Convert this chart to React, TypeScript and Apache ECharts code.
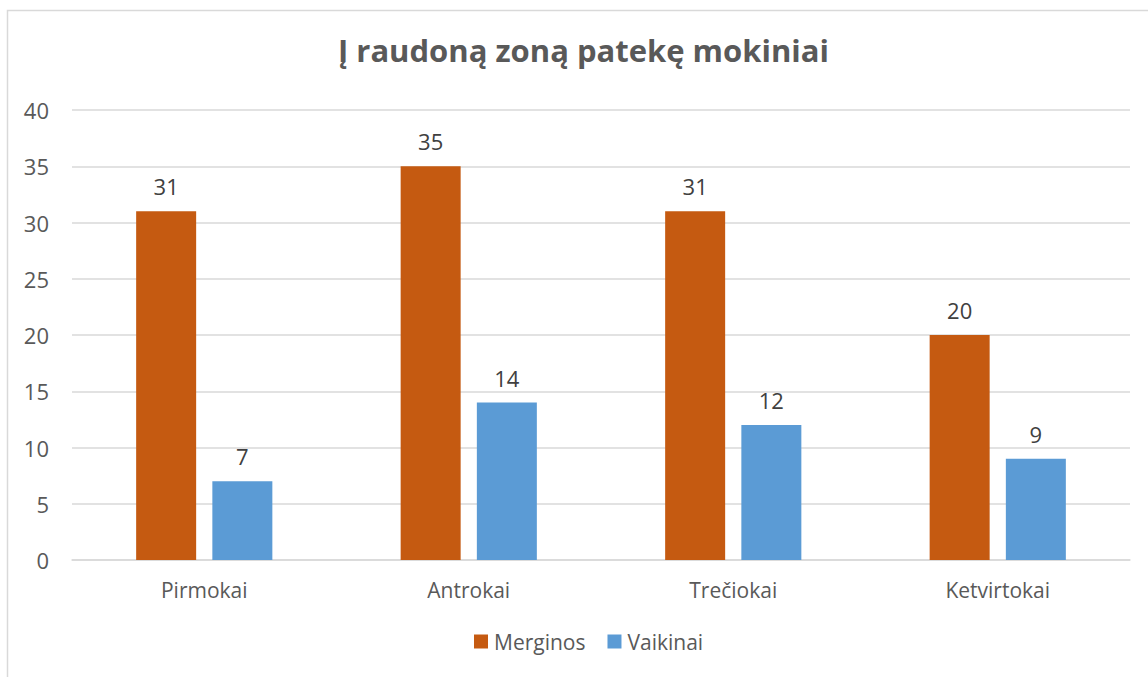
import React, { useEffect, useRef } from "react";
import * as echarts from "echarts";

const categories = ["Pirmokai", "Antrokai", "Trečiokai", "Ketvirtokai"];
const merginos = [31, 35, 31, 20];
const vaikinai = [7, 14, 12, 9];
const seriesNames = ["Merginos", "Vaikinai"];
const titleText = "Į raudoną zoną patekę mokiniai";

export default function App() {
  const ref = useRef<HTMLDivElement>(null);
  useEffect(() => {
    if (!ref.current) return;
    const chart = echarts.init(ref.current, undefined, { renderer: "svg" });
    const font = "'Open Sans', 'Noto Sans', sans-serif";
    const labelStyle = {
      show: true,
      position: "top" as const,
      distance: 14,
      color: "#404040",
      fontSize: 22,
      fontFamily: font,
    };
    chart.setOption({
      animation: false,
      backgroundColor: "#ffffff",
      title: {
        text: titleText,
        left: 333,
        top: 29,
        textStyle: { fontSize: 31, fontWeight: "bold", color: "#595959", fontFamily: font },
      },
      graphic: [
        {
          type: "rect",
          shape: { x: 7.5, y: 10.5, width: 1300, height: 800 },
          style: { fill: "none", stroke: "#d9d9d9", lineWidth: 1.5 },
          silent: true,
          z: -10,
        },
      ],
      legend: {
        data: seriesNames,
        bottom: 20,
        left: 469,
        itemWidth: 14,
        itemHeight: 14,
        itemGap: 22,
        icon: "rect",
        textStyle: { fontSize: 21, color: "#595959", fontFamily: font, padding: [0, 0, 0, 1] },
      },
      grid: { left: 72, right: 18, top: 110, bottom: 117, containLabel: false },
      xAxis: {
        type: "category",
        data: categories,
        axisLine: { lineStyle: { color: "#d9d9d9", width: 1.5 } },
        axisTick: { show: false },
        axisLabel: { fontSize: 21, color: "#595959", fontFamily: font, margin: 19 },
      },
      yAxis: {
        type: "value",
        min: 0,
        max: 40,
        interval: 5,
        axisLine: { show: false },
        axisTick: { show: false },
        splitLine: { lineStyle: { color: "#d9d9d9", width: 1.5 } },
        axisLabel: { fontSize: 22, color: "#595959", fontFamily: font, margin: 23 },
      },
      series: [
        {
          name: seriesNames[0],
          type: "bar",
          data: merginos,
          barWidth: 60,
          barGap: "27%",
          itemStyle: { color: "#c55a11" },
          label: labelStyle,
        },
        {
          name: seriesNames[1],
          type: "bar",
          data: vaikinai,
          barWidth: 60,
          itemStyle: { color: "#5b9bd5" },
          label: labelStyle,
        },
      ],
    });
    return () => chart.dispose();
  }, []);
  return (
    <div
      ref={ref}
      style={{ position: "absolute", left: 0, top: 0, width: 1148, height: 677 }}
    />
  );
}
